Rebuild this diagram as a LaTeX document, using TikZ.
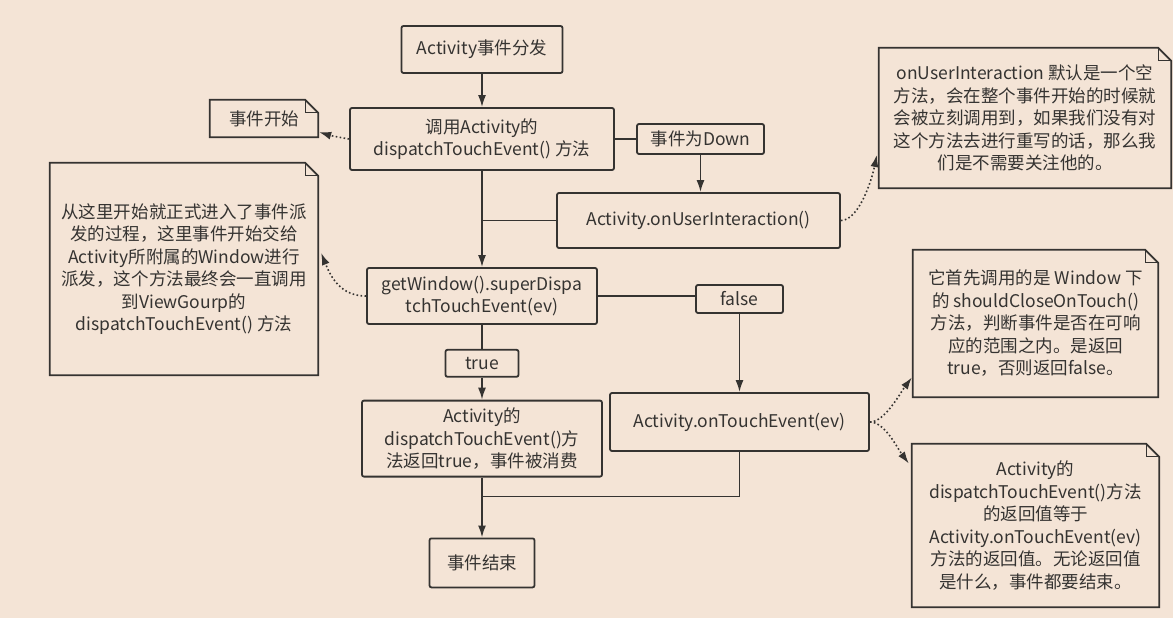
\documentclass[tikz,border=0pt]{standalone}
\usepackage{fontspec}
\setmainfont{Noto Sans CJK SC}
\usepackage{tikz}
\usetikzlibrary{arrows.meta,positioning,calc}
\definecolor{cInk}{HTML}{353331}
\definecolor{cPaper}{HTML}{F4E4D6}
\tikzset{
  >={Latex[length=12bp,width=8bp]},
  box/.style ={draw=cInk,rounded corners=2pt,line width=1.8bp,align=center,inner sep=0pt,text=cInk},
  tag/.style ={box},
  memo/.style={align=center,inner sep=0pt,text=cInk},
  ln/.style  ={line width=1.8bp,cInk},
  ar/.style  ={ln,->},
  hint/.style={ln,->,line width=1.6bp,dash pattern=on 1.6bp off 2.4bp},
}
\newcommand{\memoframe}[1]{%
  \draw[ln] (#1.south west) -- (#1.north west) -- ([xshift=-13bp]#1.north east)
     -- ([yshift=-13bp]#1.north east) -- (#1.south east) -- cycle;
  \draw[cInk,line width=1.1bp] ([xshift=-13bp]#1.north east) |- ([yshift=-13bp]#1.north east);}

\begin{document}
\begin{tikzpicture}[x=1bp,y=-1bp,font=\fontsize{17.5bp}{22.5bp}\selectfont]
\fill[cPaper] (0,0) rectangle (1173,618);
\useasboundingbox (0,0) rectangle (1173,618);
% main column
\node[box,minimum width=161bp,minimum height=47bp] (start) at (482,49.5) {Activity事件分发};
\node[box,minimum width=264bp,minimum height=62bp] (dispatch) at (482,139)
   {调用Activity的\\dispatchTouchEvent() 方法};
\node[box,minimum width=230bp,minimum height=56bp] (superd) at (482,296)
   {getWindow().superDispa\\tchTouchEvent(ev)};
\node[tag,minimum width=73bp,minimum height=27bp,below=24bp of superd] (yes) {true};
\node[box,minimum width=240bp,minimum height=76bp,below=22bp of yes] (consumed)
   {Activity的\\dispatchTouchEvent()方\\法返回true，事件被消费};
\node[box,minimum width=105bp,minimum height=49bp,below=60bp of consumed] (finish) {事件结束};
% right column
\node[tag,minimum width=127bp,minimum height=30bp] (down) at (700.5,139) {事件为Down};
\node[box,minimum width=283bp,minimum height=55bp] (uiact) at (698.5,220.5) {Activity.onUserInteraction()};
\node[tag,minimum width=87bp,minimum height=28bp] (no) at (739.5,299) {false};
\node[box,minimum width=259bp,minimum height=58bp] (touch) at (739.5,422) {Activity.onTouchEvent(ev)};
% notes
\node[memo,minimum width=108bp,minimum height=37bp] (startnote) at (264,118.5) {事件开始};
\node[memo,minimum width=268bp,minimum height=212bp] (bignote) at (184,269)
   {从这里开始就正式进入了事件派\\发的过程，这里事件开始交给\\Activity所附属的Window进行\\派发，这个方法最终会一直调用\\到ViewGourp的\\dispatchTouchEvent() 方法};
\node[memo,minimum width=292bp,minimum height=140bp] (uinote) at (1025,118)
   {onUserInteraction 默认是一个空\\方法，会在整个事件开始的时候就\\会被立刻调用到，如果我们没有对\\这个方法去进行重写的话，那么我\\们是不需要关注他的。};
\node[memo,minimum width=245bp,minimum height=147bp] (closenote) at (1035.5,323.5)
   {它首先调用的是 Window 下\\的 shouldCloseOnTouch()\\方法，判断事件是否在可响\\应的范围之内。是返回\\true，否则返回false。};
\node[memo,minimum width=247bp,minimum height=163bp] (resultnote) at (1035.5,525.5)
   {Activity的\\dispatchTouchEvent()方法\\的返回值等于\\Activity.onTouchEvent(ev)\\方法的返回值。无论返回值\\是什么，事件都要结束。};
\foreach \n in {startnote,bignote,uinote,closenote,resultnote} {\memoframe{\n}}
% flow
\draw[ar] (start) -- (dispatch);
\draw[ar] (dispatch) -- (superd);
\draw[ln] (dispatch.east) -- (down.west);
\draw[ar] (down.south) -- (down.south |- uiact.north);
\draw[ln] (dispatch.south |- uiact.west) -- (uiact.west);
\draw[ln] (superd.east) -- (superd.east -| no.west);
\draw[ar] (no.south) -- (no.south |- touch.north);
\draw[ln] (superd) -- (yes);
\draw[ar] (yes) -- (consumed);
\draw[ar] (consumed) -- (finish);
\coordinate (merge) at ($(consumed.south)+(0,19)$);
\draw[ln] (touch.south) |- (merge);
% remarks
\draw[hint] (dispatch.west) .. controls +(-12,-2) and +(10,3) .. ($(startnote.south east)+(1,-5)$);
\draw[hint] (superd.west) .. controls +(-25,0) and +(10,25) .. ($(bignote.east)+(3,-16)$);
\draw[hint] (uiact.east) .. controls +(18,0) and +(-5,25) .. ($(uinote.west)+(-2,37)$);
\draw[hint] (touch.east) .. controls +(15,0) and +(-12,16) .. ($(closenote.west)+(-1,54)$);
\draw[hint] (touch.east) .. controls +(15,0) and +(-12,-16) .. ($(resultnote.west)+(-3,-62)$);
\end{tikzpicture}
\end{document}
